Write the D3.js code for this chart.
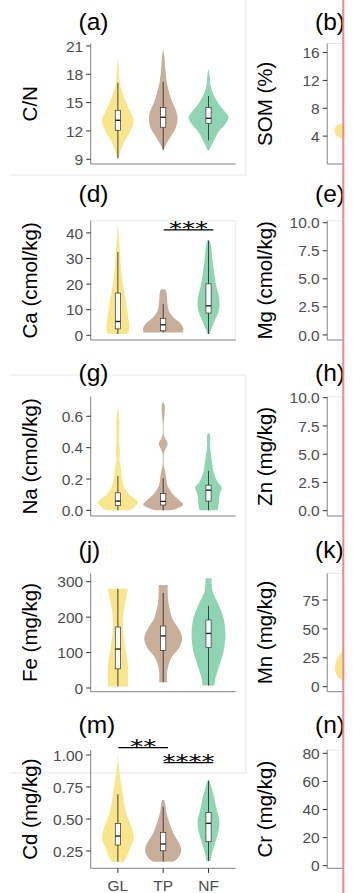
<!DOCTYPE html>
<html>
<head>
<meta charset="utf-8">
<script src="https://cdn.jsdelivr.net/npm/d3@7"></script>
<style>
body { margin: 0; background: #fff; }
svg { display: block; font-family: "Liberation Sans", Arial, sans-serif; }
</style>
</head>
<body>
<div class="container"></div>
<script>
const groups = ['GL', 'TP', 'NF']
const colors = ['#f8e58c', '#c9af99', '#8fd4b3']

// left column
const leftTitles = ['(a)', '(d)', '(g)', '(j)', '(m)']
const leftLabels = ['C/N', 'Ca (cmol/kg)', 'Na (cmol/kg)', 'Fe (mg/kg)', 'Cd (mg/kg)']
const leftDomains = [[8.5, 21.26], [-1.84, 44.77], [-0.036, 0.725], [-10.4, 323.7], [0.115, 1.039]]
const leftTicks = [[9, 12, 15, 18, 21], [0, 10, 20, 30, 40], [0, 0.2, 0.4, 0.6], [0, 100, 200, 300], [0.25, 0.5, 0.75, 1]]
const leftFormats = ['d', 'd', '.1f', 'd', '.2f']

// right column (cropped in the source)
const rightTitles = ['(b)', '(e)', '(h)', '(k)', '(n)']
const rightLabels = ['SOM (%)', 'Mg (cmol/kg)', 'Zn (mg/kg)', 'Mn (mg/kg)', 'Cr (mg/kg)']
const rightDomains = [[0, 17.3], [-0.45, 10.18], [-0.47, 10.09], [-4.3, 98.1], [-1.85, 82.35]]
const rightTicks = [[4, 8, 12, 16], [0, 2.5, 5, 7.5, 10], [0, 2.5, 5, 7.5, 10], [0, 25, 50, 75], [0, 20, 40, 60, 80]]
const rightFormats = ['d', '.1f', '.1f', 'd', 'd']

// violin outlines, [value, relative width], one list per group GL, TP, NF
const cnViolins = [
  [[9.1, 0.02], [9.8, 0.12], [10.8, 0.29], [11.9, 0.59], [13.1, 0.78], [14.1, 0.59], [15.1, 0.39], [16.9, 0.11], [18.5, 0.05], [19.5, 0.01]],
  [[10.0, 0.01], [10.4, 0.1], [11.3, 0.34], [12.3, 0.61], [13.3, 0.7], [14.1, 0.64], [15.1, 0.44], [16.9, 0.2], [18.6, 0.1], [19.8, 0.06], [20.6, 0.01]],
  [[9.9, 0.02], [10.9, 0.25], [11.9, 0.49], [12.6, 0.78], [13.4, 0.98], [14.1, 0.78], [14.75, 0.54], [15.8, 0.25], [16.8, 0.1], [17.6, 0.07], [18.5, 0.01]]
]
const caViolins = [
  [[0.5, 0.49], [1.5, 0.54], [4.1, 0.56], [8, 0.49], [13.2, 0.39], [19.7, 0.25], [26.2, 0.15], [32.7, 0.1], [38, 0.05], [42.9, 0.01]],
  [[1.1, 0.98], [2.8, 0.98], [4.8, 0.83], [6.7, 0.54], [9.3, 0.29], [13.2, 0.2], [16.5, 0.17], [17.6, 0.13], [18.0, 0.06]],
  [[0.5, 0.05], [2.1, 0.12], [5.4, 0.29], [9.3, 0.49], [13.2, 0.54], [21, 0.34], [28.8, 0.2], [35, 0.12], [37, 0.06]]
]
const naViolins = [
  [[0.0, 0.59], [0.023, 0.83], [0.055, 0.98], [0.097, 0.59], [0.14, 0.34], [0.204, 0.2], [0.267, 0.15], [0.32, 0.08], [0.373, 0.1], [0.42, 0.07], [0.48, 0.07], [0.586, 0.07], [0.65, 0.02]],
  [[0.0, 0.39], [0.013, 0.69], [0.038, 0.98], [0.066, 0.78], [0.108, 0.44], [0.161, 0.2], [0.204, 0.15], [0.246, 0.1], [0.28, 0.04], [0.31, 0.02], [0.373, 0.05], [0.427, 0.22], [0.47, 0.05], [0.543, 0.02], [0.628, 0.07], [0.67, 0.07], [0.69, 0.01]],
  [[0.0, 0.44], [0.034, 0.49], [0.097, 0.54], [0.15, 0.64], [0.182, 0.44], [0.246, 0.25], [0.33, 0.15], [0.416, 0.07], [0.48, 0.07], [0.494, 0.02]]
]
const feViolins = [
  [[4.5, 0.49], [28, 0.49], [66, 0.49], [103, 0.39], [150, 0.27], [197, 0.25], [244, 0.37], [270, 0.47], [280, 0.49]],
  [[16, 0.2], [47, 0.2], [85, 0.39], [113, 0.78], [141, 0.93], [169, 0.74], [197, 0.44], [244, 0.25], [275, 0.22], [291, 0.22]],
  [[7, 0.29], [28, 0.34], [56, 0.49], [103, 0.74], [150, 0.83], [197, 0.74], [235, 0.49], [272, 0.2], [300, 0.15], [310, 0.15]]
]
const cdViolins = [
  [[0.167, 0.29], [0.19, 0.39], [0.27, 0.59], [0.35, 0.78], [0.427, 0.69], [0.53, 0.44], [0.635, 0.29], [0.74, 0.2], [0.84, 0.1], [0.95, 0.02], [1.005, 0.01]],
  [[0.167, 0.49], [0.19, 0.69], [0.245, 0.88], [0.297, 0.83], [0.375, 0.54], [0.453, 0.34], [0.557, 0.15], [0.62, 0.1], [0.648, 0.05]],
  [[0.172, 0.1], [0.219, 0.15], [0.297, 0.29], [0.375, 0.44], [0.479, 0.54], [0.583, 0.39], [0.687, 0.25], [0.76, 0.12], [0.8, 0.05]]
]
// only the edge of the GL violin is visible in the cropped right column
const somViolins = [
  [[1.0, 0.1], [2.5, 0.25], [3.5, 0.5], [4.0, 0.85], [4.9, 0.98], [5.6, 0.85], [6.0, 0.5], [7.5, 0.25], [10, 0.1], [16, 0.01]]
]
const mnViolins = [
  [[0.5, 0.3], [5, 0.55], [8, 0.8], [12, 0.92], [17, 0.95], [22, 0.9], [26, 0.78], [35, 0.5], [50, 0.28], [75, 0.1], [95, 0.02]]
]

// box stats [lower whisker, q1, median, q3, upper whisker]
const cnBoxes = [[9.1, 12.07, 13.13, 14.19, 17.1], [10.0, 12.39, 13.45, 14.47, 17.2], [11.0, 12.81, 13.34, 14.47, 15.7]]
const caBoxes = [[0.5, 2.5, 5.4, 16.5, 32.5], [1.1, 1.76, 4.1, 6.6, 12.2], [0.5, 8.7, 11.5, 20.1, 37.0]]
const naBoxes = [[0.0, 0.03, 0.059, 0.112, 0.22], [0.0, 0.034, 0.057, 0.108, 0.204], [0.0, 0.059, 0.129, 0.161, 0.252]]
const feBoxes = [[4.5, 54, 110, 172, 280], [16, 106, 147, 175, 268], [7, 114, 154, 192, 232]]
const cdBoxes = [[0.167, 0.297, 0.367, 0.466, 0.693], [0.167, 0.252, 0.305, 0.396, 0.596], [0.172, 0.323, 0.466, 0.552, 0.8]]

// significance brackets [from, to, value, label]
const caSig = [['TP', 'NF', 41.2, '***']]
const cdSig = [['GL', 'TP', 1.057, '**'], ['TP', 'NF', 0.94, '****']]

const leftViolins = [cnViolins, caViolins, naViolins, feViolins, cdViolins]
const leftBoxes = [cnBoxes, caBoxes, naBoxes, feBoxes, cdBoxes]
const leftSigs = [[], caSig, [], [], cdSig]
const rightViolins = [somViolins, [], [], mnViolins, []]

// layout
const width = 353
const height = 893
const rowTops = [43.5, 220.7, 396.7, 573.3, 750]
const rowBottoms = [164, 340, 516, 691.7, 868.3]
const titleBase = [30, 201.7, 380.7, 557.7, 733.3]
const cols = [
  {axisX: 90.7, labelX: 36.5, titleX: 78.5},
  {axisX: 327.2, labelX: 272.3, titleX: 315}
]
const plotW = 145

const svg = d3.select('.container')
  .append('svg')
  .attr('width', width)
  .attr('height', height)

svg.append('rect').attr('width', width).attr('height', height).attr('fill', '#fff')

// faint panel edges from the assembled figure
const faint = '#e8e8e8'
const faintLines = [[10, 175, 246, 175], [246, 0, 246, 176], [10, 375, 246, 375], [246, 375, 246, 773], [10, 773, 246, 773]]
svg.selectAll('.faint')
  .data(faintLines)
  .join('line')
  .attr('x1', d => d[0]).attr('y1', d => d[1])
  .attr('x2', d => d[2]).attr('y2', d => d[3])
  .attr('stroke', faint)
  .attr('stroke-width', 1)

function drawPanel(col, row, opts) {
  const c = cols[col]
  const top = rowTops[row]
  const bottom = rowBottoms[row]

  const x = d3.scalePoint()
    .domain(groups)
    .range([c.axisX, c.axisX + plotW])
    .padding(0.6)
  const y = d3.scaleLinear()
    .domain(opts.domain)
    .range([bottom, top])
  const w = d3.scaleLinear()
    .domain([0, 1])
    .range([0, x.step() * 0.45])

  const g = svg.append('g')

  if (opts.border) {
    g.append('path')
      .attr('d', `M${c.axisX},${top}H${c.axisX + plotW}V${bottom}`)
      .attr('fill', 'none')
      .attr('stroke', faint)
  }
  if (opts.topLine) {
    g.append('line')
      .attr('x1', c.axisX).attr('x2', c.axisX + plotW)
      .attr('y1', top).attr('y2', top)
      .attr('stroke', faint)
  }

  // violins
  opts.violins.forEach((pts, i) => {
    const cx = x(groups[i])
    const area = d3.area()
      .curve(d3.curveCatmullRom)
      .y(d => y(d[0]))
      .x0(d => cx - w(d[1]))
      .x1(d => cx + w(d[1]))
    g.append('path')
      .attr('d', area(pts))
      .attr('fill', colors[i])
  })

  // boxes
  if (opts.boxes) {
    opts.boxes.forEach((b, i) => {
      const cx = x(groups[i])
      g.append('line')
        .attr('x1', cx).attr('x2', cx)
        .attr('y1', y(b[0])).attr('y2', y(b[4]))
        .attr('stroke', '#333')
        .attr('stroke-width', 0.9)
      g.append('rect')
        .attr('x', cx - 2.6)
        .attr('width', 5.2)
        .attr('y', y(b[3]))
        .attr('height', y(b[1]) - y(b[3]))
        .attr('fill', '#fff')
        .attr('stroke', '#333')
        .attr('stroke-width', 0.7)
      g.append('line')
        .attr('x1', cx - 2.6).attr('x2', cx + 2.6)
        .attr('y1', y(b[2])).attr('y2', y(b[2]))
        .attr('stroke', '#222')
        .attr('stroke-width', 1.4)
    })
  }

  // axes
  g.append('line')
    .attr('x1', c.axisX).attr('x2', c.axisX)
    .attr('y1', top).attr('y2', bottom)
    .attr('stroke', '#808080')
  g.append('line')
    .attr('x1', c.axisX).attr('x2', c.axisX + plotW)
    .attr('y1', bottom).attr('y2', bottom)
    .attr('stroke', '#808080')

  const fmt = d3.format(opts.format)
  const ticks = g.selectAll('.tick')
    .data(opts.ticks)
    .join('g')
    .attr('transform', d => `translate(${c.axisX},${y(d)})`)
  ticks.append('line')
    .attr('x1', -4.5).attr('x2', 0)
    .attr('stroke', '#333')
  ticks.append('text')
    .attr('x', -7.5)
    .attr('dy', '0.36em')
    .attr('text-anchor', 'end')
    .attr('fill', '#4d4d4d')
    .style('font-size', '15.5px')
    .text(d => fmt(d))

  if (opts.xLabels) {
    const xt = g.selectAll('.xtick')
      .data(groups)
      .join('g')
      .attr('transform', d => `translate(${x(d)},${bottom})`)
    xt.append('line')
      .attr('y1', 0).attr('y2', 4.5)
      .attr('stroke', '#333')
    xt.append('text')
      .attr('y', 22.5)
      .attr('text-anchor', 'middle')
      .attr('fill', '#4d4d4d')
      .style('font-size', '15.5px')
      .text(d => d)
  }

  // axis title
  g.append('text')
    .attr('transform', `translate(${c.labelX},${(top + bottom) / 2}) rotate(-90)`)
    .attr('text-anchor', 'middle')
    .attr('fill', '#000')
    .style('font-size', '20.5px')
    .text(opts.label)

  // panel title
  g.append('text')
    .attr('x', c.titleX)
    .attr('y', titleBase[row])
    .attr('fill', '#000')
    .style('font-size', '24.5px')
    .text(opts.title)

  // significance brackets
  ;(opts.sigs || []).forEach(s => {
    const x1 = x(s[0]) + 0.5
    const x2 = x(s[1]) + 4.8
    const yy = y(s[2])
    g.append('line')
      .attr('x1', x1).attr('x2', x2)
      .attr('y1', yy).attr('y2', yy)
      .attr('stroke', '#000')
      .attr('stroke-width', 1.3)
    g.append('text')
      .attr('transform', `translate(${(x1 + x2) / 2},${yy + 5.6}) scale(1.3,1)`)
      .attr('text-anchor', 'middle')
      .attr('fill', '#000')
      .style('font-family', '"DejaVu Sans", sans-serif')
      .style('font-size', '20px')
      .text(s[3])
  })
}

leftTitles.forEach((t, i) => {
  drawPanel(0, i, {
    title: t,
    label: leftLabels[i],
    domain: leftDomains[i],
    ticks: leftTicks[i],
    format: leftFormats[i],
    violins: leftViolins[i],
    boxes: leftBoxes[i],
    sigs: leftSigs[i],
    border: i === 1,
    xLabels: i === leftTitles.length - 1
  })
})

rightTitles.forEach((t, i) => {
  drawPanel(1, i, {
    title: t,
    label: rightLabels[i],
    domain: rightDomains[i],
    ticks: rightTicks[i],
    format: rightFormats[i],
    violins: rightViolins[i],
    topLine: true,
    xLabels: false
  })
})

// crop edge of the source figure
svg.append('rect')
  .attr('x', 344.3).attr('y', 0)
  .attr('width', width - 344.3).attr('height', height)
  .attr('fill', '#fff')
svg.append('rect')
  .attr('x', 342.3).attr('y', 0)
  .attr('width', 2).attr('height', height)
  .attr('fill', '#ea8a8a')
</script>
</body>
</html>
